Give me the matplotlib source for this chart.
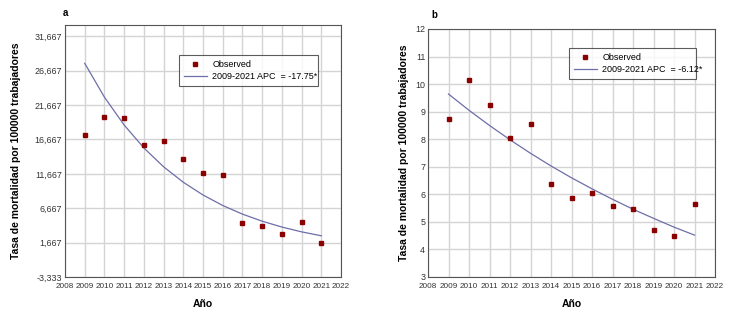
import matplotlib
matplotlib.use("Agg")
import matplotlib.pyplot as plt
from matplotlib.ticker import FixedLocator, FuncFormatter

plt.rcParams['font.family'] = ['Liberation Sans', 'DejaVu Sans']

years = [2009, 2010, 2011, 2012, 2013, 2014, 2015, 2016, 2017, 2018, 2019, 2020, 2021]

# panel a
obs_a = [17.3, 19.86, 19.76, 15.85, 16.38, 13.79, 11.72, 11.43, 4.54, 4.15, 2.97, 4.61, 1.57]
fit_a = [27.73, 22.81, 18.76, 15.43, 12.69, 10.44, 8.59, 7.06, 5.81, 4.78, 3.93, 3.23, 2.66]
label_a = "2009-2021 APC  = -17.75*"
yticks_a = [-3.333, 1.667, 6.667, 11.667, 16.667, 21.667, 26.667, 31.667]

# panel b
obs_b = [8.75, 10.14, 9.24, 8.05, 8.57, 6.38, 5.87, 6.05, 5.56, 5.47, 4.72, 4.49, 5.64]
fit_b = [9.64, 9.05, 8.50, 7.98, 7.49, 7.03, 6.60, 6.20, 5.82, 5.46, 5.13, 4.81, 4.52]
label_b = "2009-2021 APC  = -6.12*"
yticks_b = [3, 4, 5, 6, 7, 8, 9, 10, 11, 12]

xticks = list(range(2008, 2023))

W, H = 736, 316
fig = plt.figure(figsize=(W / 100, H / 100), dpi=100)


def box(l, t, r, b):
    return [l / W, 1 - b / H, (r - l) / W, (b - t) / H]


def leg_box(ax_l, ax_t, ax_r, ax_b_, l, t, r, b):
    # legend rectangle in axes fraction, from pixel edges
    w = ax_r - ax_l
    h = ax_b_ - ax_t
    return ((l - ax_l) / w, (ax_b_ - b) / h, (r - l) / w, (b - t) / h)


def panel(ax, obs, fit, label, yticks, ylim, fmt, letter, letter_xy, ylab_x, legend_box):
    ax.plot(years, fit, color='#6e6ea8', lw=0.9, label=label, zorder=3)
    ax.plot(years, obs, 's', color='#8b0000', ms=3.2, label='Observed', zorder=4)
    ax.set_xlim(2008, 2022)
    ax.set_ylim(*ylim)
    ax.xaxis.set_major_locator(FixedLocator(xticks))
    ax.yaxis.set_major_locator(FixedLocator(yticks))
    ax.yaxis.set_major_formatter(FuncFormatter(fmt))
    ax.grid(True, color='#d4d4d4', lw=1.0)
    ax.set_axisbelow(True)
    ax.tick_params(axis='x', labelsize=5.9, length=0, pad=4, colors='#333333')
    ax.tick_params(axis='y', labelsize=6.4, length=0, pad=2, colors='#333333')
    for side in ['top', 'right', 'bottom', 'left']:
        ax.spines[side].set_color('#555555')
        ax.spines[side].set_linewidth(0.8)
    ax.set_xlabel('Año', fontsize=7.5, fontweight='bold', labelpad=7)
    ax.set_ylabel('Tasa de mortalidad por 100000 trabajadores', fontsize=7.5,
                  fontweight='bold')
    ax.yaxis.set_label_coords(ylab_x, 0.5)
    ax.text(letter_xy[0], letter_xy[1], letter, transform=ax.transAxes, fontsize=7,
            fontweight='bold', ha='left', va='center')
    h, l = ax.get_legend_handles_labels()
    leg = ax.legend(h[::-1], l[::-1], loc='lower left', bbox_to_anchor=legend_box,
                    mode='expand', fontsize=6.5, frameon=True, fancybox=False,
                    edgecolor='#333333', borderpad=0.5, handlelength=2.6,
                    labelspacing=0.4, handletextpad=0.6, borderaxespad=0,
                    markerscale=0.8)
    leg.get_frame().set_linewidth(0.8)


ax_a = fig.add_axes(box(65, 25, 341, 277))
ax_b = fig.add_axes(box(428, 29, 715, 277))

panel(ax_a, obs_a, fit_a, label_a, yticks_a, (-3.333, 33.3),
      lambda v, p: f"{v:,.3f}".replace('.', ','), 'a', (-0.008, 1.048), -0.16,
      leg_box(65, 25, 341, 277, 179, 53, 318, 86))
panel(ax_b, obs_b, fit_b, label_b, yticks_b, (3, 12),
      lambda v, p: f"{v:.0f}", 'b', (0.012, 1.056), -0.065,
      leg_box(428, 29, 715, 277, 569, 47, 696, 79))

fig.savefig('out.png', dpi=100)
